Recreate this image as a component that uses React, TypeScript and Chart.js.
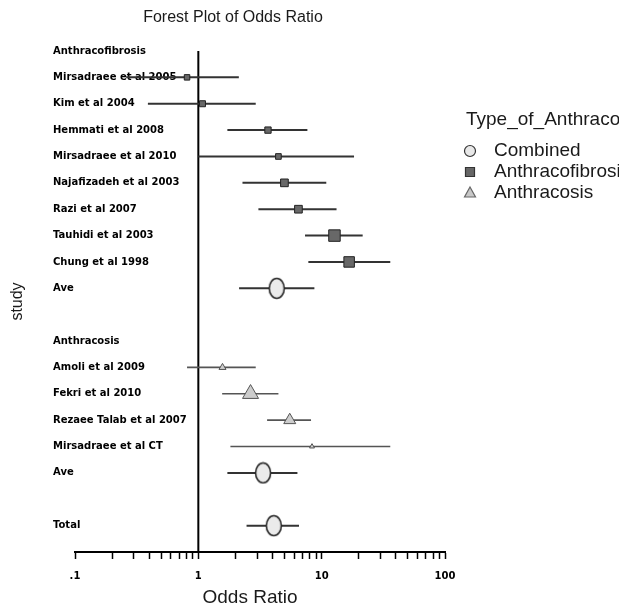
import React, { useEffect, useRef } from 'react';
import { Chart, registerables } from 'chart.js';

Chart.register(...registerables);

// ---- data ----
const rowLabels = [
  'Anthracofibrosis',
  'Mirsadraee et al 2005',
  'Kim et al 2004',
  'Hemmati et al 2008',
  'Mirsadraee et al 2010',
  'Najafizadeh et al 2003',
  'Razi et al 2007',
  'Tauhidi et al 2003',
  'Chung et al 1998',
  'Ave',
  '',
  'Anthracosis',
  'Amoli et al 2009',
  'Fekri et al 2010',
  'Rezaee Talab et al 2007',
  'Mirsadraee et al CT',
  'Ave',
  '',
  'Total',
];

const fibroRows = [1, 2, 3, 4, 5, 6, 7, 8];
const fibroOR = [0.81, 1.08, 3.67, 4.46, 4.99, 6.48, 12.7, 16.7];
const fibroLo = [0.26, 0.39, 1.72, 1.0, 2.28, 3.07, 7.33, 7.8];
const fibroHi = [2.13, 2.92, 7.66, 18.3, 10.9, 13.2, 21.5, 36.0];
const fibroWeight = [3.0, 3.6, 4.0, 3.2, 5.9, 5.9, 13.2, 11.0];

const cosisRows = [12, 13, 14, 15];
const cosisOR = [1.57, 2.65, 5.51, 8.35];
const cosisLo = [0.81, 1.56, 3.61, 1.82];
const cosisHi = [2.92, 4.46, 8.2, 36.0];
const cosisWeight = [4.9, 25.6, 14.4, 2.5];

const combinedRows = [9, 16, 18];
const combinedOR = [4.32, 3.35, 4.09];
const combinedLo = [2.14, 1.72, 2.46];
const combinedHi = [8.73, 6.36, 6.55];

const xTickValues = [0.1, 1, 10, 100];
const xTickLabels = ['.1', '1', '10', '100'];

const seriesNames = ['Combined', 'Anthracofibrosis', 'Anthracosis'];
const legendTitle = 'Type_of_Anthracosis';
const chartTitle = 'Forest Plot of Odds Ratio';
const xTitle = 'Odds Ratio';
const yTitle = 'study';

const LABEL_FONT = 'bold 10px "DejaVu Sans", Verdana, sans-serif';
const SANS = '"Liberation Sans", Arial, sans-serif';

function makeEllipse(w: number, h: number): HTMLCanvasElement {
  const c = document.createElement('canvas');
  c.width = w + 3;
  c.height = h + 3;
  const g = c.getContext('2d')!;
  g.beginPath();
  g.ellipse(c.width / 2, c.height / 2, w / 2, h / 2, 0, 0, Math.PI * 2);
  g.fillStyle = '#ebebeb';
  g.fill();
  g.lineWidth = 1.6;
  g.strokeStyle = '#2a2a2a';
  g.stroke();
  return c;
}

const labelsPlugin = {
  id: 'rowLabels',
  beforeDatasetsDraw(chart: any) {
    const ctx = chart.ctx;
    const y = chart.scales.y;
    ctx.save();
    ctx.font = LABEL_FONT;
    ctx.fillStyle = '#000';
    ctx.textAlign = 'left';
    ctx.textBaseline = 'middle';
    rowLabels.forEach((t, i) => {
      if (t) ctx.fillText(t, 53, y.getPixelForValue(i));
    });
    ctx.restore();
  },
};

const decorPlugin = {
  id: 'decor',
  afterDraw(chart: any) {
    const ctx = chart.ctx;
    ctx.save();
    ctx.fillStyle = '#1a1a1a';
    ctx.textBaseline = 'middle';
    ctx.textAlign = 'center';
    ctx.font = '16px ' + SANS;
    ctx.fillText(chartTitle, 233, 18);
    ctx.font = '19px ' + SANS;
    ctx.fillText(xTitle, 250, 598);

    // legend
    ctx.textAlign = 'left';
    ctx.fillText(legendTitle, 466, 120);
    seriesNames.forEach((name, i) => {
      const cy = 151 + i * 21;
      const cx = 470;
      ctx.beginPath();
      if (i === 0) {
        ctx.arc(cx, cy, 5.5, 0, Math.PI * 2);
        ctx.fillStyle = '#e8e8e8';
        ctx.strokeStyle = '#333';
      } else if (i === 1) {
        ctx.rect(cx - 4.5, cy - 4.5, 9, 9);
        ctx.fillStyle = '#666';
        ctx.strokeStyle = '#333';
      } else {
        ctx.moveTo(cx, cy - 6);
        ctx.lineTo(cx + 5.5, cy + 4);
        ctx.lineTo(cx - 5.5, cy + 4);
        ctx.closePath();
        ctx.fillStyle = '#c8c8c8';
        ctx.strokeStyle = '#666';
      }
      ctx.lineWidth = 1.2;
      ctx.fill();
      ctx.stroke();
      ctx.fillStyle = '#1a1a1a';
      ctx.fillText(name, 494, cy);
    });
    ctx.restore();
  },
};

function whisker(row: number, lo: number, hi: number, color: string, width: number) {
  return {
    label: 'ci',
    data: [
      { x: lo, y: row },
      { x: hi, y: row },
    ],
    showLine: true,
    borderColor: color,
    borderWidth: width,
    pointRadius: 0,
    order: 2,
  };
}

export default function App() {
  const ref = useRef<HTMLCanvasElement | null>(null);

  useEffect(() => {
    document.body.style.margin = '0';
    document.body.style.overflow = 'hidden';
    const canvas = ref.current!;
    const ellipse = makeEllipse(15, 20);

    const datasets: any[] = [];
    // reference line at OR = 1
    datasets.push({
      label: 'ref',
      data: [
        { x: 1, y: 0 },
        { x: 1, y: 19 },
      ],
      showLine: true,
      borderColor: '#000',
      borderWidth: 2,
      pointRadius: 0,
      order: 3,
    });
    fibroRows.forEach((r, i) => datasets.push(whisker(r, fibroLo[i], fibroHi[i], '#333', 2)));
    cosisRows.forEach((r, i) => datasets.push(whisker(r, cosisLo[i], cosisHi[i], '#555', 1.6)));
    combinedRows.forEach((r, i) => datasets.push(whisker(r, combinedLo[i], combinedHi[i], '#333', 2)));

    datasets.push({
      label: seriesNames[0],
      data: combinedRows.map((r, i) => ({ x: combinedOR[i], y: r })),
      pointStyle: ellipse,
      pointRadius: 8,
      order: 0,
    });
    datasets.push({
      label: seriesNames[1],
      data: fibroRows.map((r, i) => ({ x: fibroOR[i], y: r })),
      pointStyle: 'rect',
      pointRadius: fibroWeight.map((w) => Math.sqrt(10 * w) / 1.414),
      backgroundColor: '#686868',
      borderColor: '#222',
      borderWidth: 1,
      order: 0,
    });
    datasets.push({
      label: seriesNames[2],
      data: cosisRows.map((r, i) => ({ x: cosisOR[i], y: r })),
      pointStyle: 'triangle',
      pointRadius: cosisWeight.map((w) => Math.sqrt(10 * w) / 1.732),
      backgroundColor: '#cdcdcd',
      borderColor: '#555',
      borderWidth: 1,
      order: 0,
    });

    const minorTicks: number[] = [];
    for (let e = -1; e <= 1; e++) {
      for (let m = 1; m <= 9; m++) minorTicks.push(m * Math.pow(10, e));
    }
    minorTicks.push(100);

    const chart = new Chart(canvas, {
      type: 'scatter',
      data: { datasets },
      options: {
        animation: false,
        responsive: false,
        events: [],
        layout: { padding: { top: 51, left: 2, right: 174, bottom: 0 } },
        plugins: {
          legend: { display: false },
          tooltip: { enabled: false },
          title: { display: false },
        },
        scales: {
          x: {
            type: 'logarithmic',
            position: 'bottom',
            min: 0.1,
            max: 100,
            border: { display: true, color: '#000', width: 2 },
            grid: {
              display: true,
              drawOnChartArea: false,
              drawTicks: true,
              tickLength: 7,
              tickColor: '#000',
              tickWidth: 1.5,
            },
            afterBuildTicks: (s: any) => {
              s.ticks = minorTicks.map((v) => ({ value: v }));
            },
            afterFit: (s: any) => {
              s.height = 59;
            },
            ticks: {
              autoSkip: false,
              maxRotation: 0,
              minRotation: 0,
              padding: 11,
              color: '#000',
              font: { family: '"DejaVu Sans", Verdana, sans-serif', size: 10, weight: 'bold' },
              callback: (v: any) => {
                const idx = xTickValues.findIndex((t) => Math.abs(t - Number(v)) < 1e-9);
                return idx >= 0 ? xTickLabels[idx] : '';
              },
            },
          },
          y: {
            type: 'linear',
            reverse: true,
            min: 0,
            max: 19,
            ticks: { display: false },
            grid: { display: false },
            border: { display: false },
            title: {
              display: true,
              text: yTitle,
              color: '#1a1a1a',
              font: { family: SANS, size: 16 },
              padding: { top: 6, bottom: 0 },
            },
            afterFit: (s: any) => {
              s.width = 73;
            },
          },
        },
      } as any,
      plugins: [labelsPlugin, decorPlugin],
    });
    return () => chart.destroy();
  }, []);

  return (
    <div style={{ width: 619, height: 611, background: '#fff' }}>
      <canvas ref={ref} width={619} height={611} style={{ display: 'block' }} />
    </div>
  );
}
